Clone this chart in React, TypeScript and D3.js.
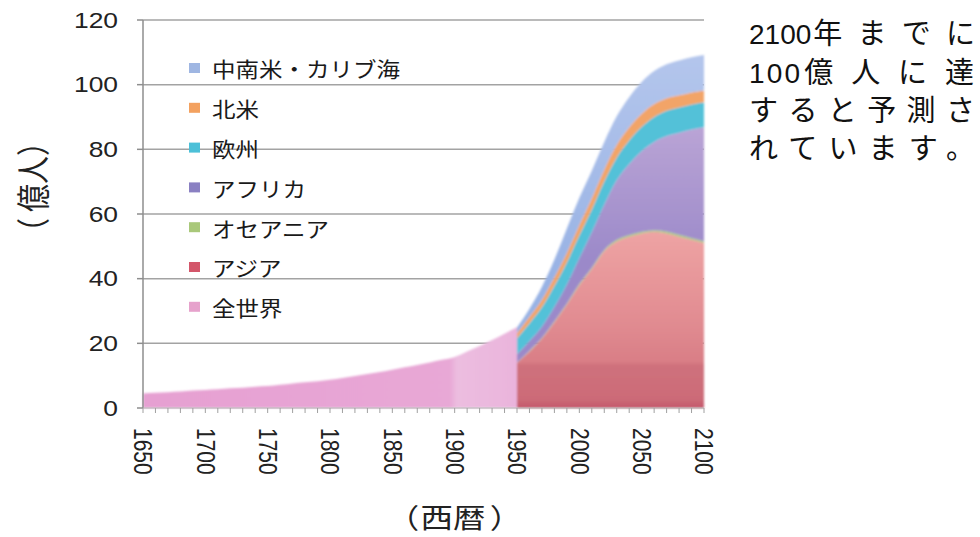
import React from "react";
import * as d3 from "d3";

const worldYears = [1650,1660,1670,1680,1690,1700,1710,1720,1730,1740,1750,1760,1770,1780,1790,1800,1810,1820,1830,1840,1850,1860,1870,1880,1890,1900,1910,1920,1930,1940,1950];
const worldPop = [4.5,4.7,4.9,5.1,5.4,5.6,5.8,6.1,6.3,6.6,6.8,7.2,7.6,8.0,8.3,8.7,9.3,9.9,10.5,11.1,11.8,12.6,13.3,14.1,14.9,15.8,17.5,19.2,21.0,23.0,25.0];

const regionYears = [1950,1960,1970,1980,1990,2000,2010,2020,2030,2040,2050,2060,2070,2080,2090,2100];
const asia = [14,17.5,21.5,26.5,32,38,43,48.5,51.5,53,54,54.5,54,53,52,51];
const oceania = [0.1,0.2,0.2,0.3,0.3,0.4,0.4,0.4,0.5,0.5,0.5,0.5,0.6,0.6,0.6,0.6];
const africa = [2.5,3,3.5,4.5,6,8,11,14,18.5,22,25,27.3,29.5,31.5,33.5,35.2];
const europe = [5,5.5,6,6.5,6.8,7,7,7.2,7,7.3,7.5,7.7,7.8,7.8,7.8,7.8];
const northAmerica = [1.5,2,2.3,2.6,2.9,3.2,3.5,3.7,3.9,4,4,4,3.9,3.8,3.7,3.6];
const latinAmerica = [1.8,2.5,4,5.5,7.5,8.4,8.5,8.5,8.8,9.3,9.8,10.2,10.5,10.8,10.9,11];

const seriesKeys = ["asia","oceania","africa","europe","northAmerica","latinAmerica"];
const seriesValues: Record<string, number[]> = { asia, oceania, africa, europe, northAmerica, latinAmerica };

const legendLabels = ["中南米・カリブ海","北米","欧州","アフリカ","オセアニア","アジア","全世界"];
const legendColors = ["#9fb6e2","#f3a15f","#4cc0d8","#8a80c2","#a9c87a","#d3566a","#e6a2cc"];

const yTicks = [0,20,40,60,80,100,120];
const xLabelYears = [1650,1700,1750,1800,1850,1900,1950,2000,2050,2100];
const xTickYears = d3.range(1650, 2101, 10);

const yTitle = ["（", "億人", "）"];
const xTitle = ["（", "西暦", "）"];
const noteLines = ["2100年までに","100億人に達","すると予測さ","れています。"];

const W = 980, H = 537;
const left = 143, right = 704, top = 20, bottom = 408;
const SX = 1.2;

// layout of the note lines (style only)
const noteBaselines = [44, 83, 121, 159];
const noteDigitSpacing = [0, 2.2, 0, 0];
const noteEnd = [975, 974, 975, 975];

export default function App() {
  const x = d3.scaleLinear().domain([1650, 2100]).range([left, right]);
  const y = d3.scaleLinear().domain([0, 120]).range([bottom, top]);

  const rows = regionYears.map((yr, i) => {
    const r: any = { year: yr };
    seriesKeys.forEach(k => (r[k] = seriesValues[k][i]));
    return r;
  });
  const stacked = d3.stack().keys(seriesKeys)(rows);
  const area = d3.area<any>()
    .x((d: any) => x(d.data.year))
    .y0((d: any) => y(d[0]))
    .y1((d: any) => y(d[1]))
    .curve(d3.curveMonotoneX);
  const worldArea = d3.area<number>()
    .x((_, i) => x(worldYears[i]))
    .y0(y(0))
    .y1(d => y(d))
    .curve(d3.curveMonotoneX);

  const fills: Record<string, string> = {
    asia: "url(#gAsia)",
    oceania: "#a9c87a",
    africa: "url(#gAfrica)",
    europe: "#52c1d8",
    northAmerica: "#f2a468",
    latinAmerica: "url(#gLatam)",
  };

  const tickFont = "'Liberation Sans', Arial, sans-serif";
  const cjkFont = "'Noto Sans CJK JP', 'Noto Sans', sans-serif";
  const digitFontSize = 28;
  const cjkFontSize = 29;

  return (
    <svg width={W} height={H}
      style={{ position: "absolute", left: 0, top: 0, background: "#fff", textSpacingTrim: "space-all" } as any}>
      <defs>
        <linearGradient id="gAsia" gradientUnits="userSpaceOnUse" x1="0" y1={y(55)} x2="0" y2={y(0)}>
          <stop offset="0" stopColor="#eea4a4" />
          <stop offset="0.55" stopColor="#e08a90" />
          <stop offset="0.74" stopColor="#d97e86" />
          <stop offset="0.76" stopColor="#cf717c" />
          <stop offset="0.95" stopColor="#cc6b78" />
          <stop offset="1" stopColor="#c4566a" />
        </linearGradient>
        <linearGradient id="gAfrica" gradientUnits="userSpaceOnUse" x1="0" y1={y(90)} x2="0" y2={y(45)}>
          <stop offset="0" stopColor="#bca6d6" />
          <stop offset="1" stopColor="#9b89c9" />
        </linearGradient>
        <linearGradient id="gLatam" gradientUnits="userSpaceOnUse" x1="0" y1={y(110)} x2="0" y2={y(40)}>
          <stop offset="0" stopColor="#b4c6ec" />
          <stop offset="1" stopColor="#98b2e4" />
        </linearGradient>
        <linearGradient id="gWorld" gradientUnits="userSpaceOnUse" x1={left} y1="0" x2={x(1950)} y2="0">
          <stop offset="0" stopColor="#e6a0d2" />
          <stop offset="0.82" stopColor="#e8a8d6" />
          <stop offset="0.84" stopColor="#ecbde0" />
          <stop offset="1" stopColor="#eab4dc" />
        </linearGradient>
        <filter id="soft" x="-5%" y="-5%" width="110%" height="110%">
          <feGaussianBlur stdDeviation="0.9" />
        </filter>
      </defs>

      {/* gridlines */}
      {yTicks.filter(t => t > 0).map(t => (
        <line key={t} x1={left} x2={right} y1={y(t)} y2={y(t)} stroke="#a3a3a3" strokeWidth={1.5} />
      ))}

      {/* areas */}
      <g filter="url(#soft)">
        <path d={worldArea(worldPop) || ""} fill="url(#gWorld)" />
        {stacked.map(s => (
          <path key={s.key} d={area(s as any) || ""} fill={fills[s.key]} />
        ))}
      </g>

      {/* axes */}
      <line x1={left} x2={left} y1={top} y2={bottom} stroke="#8e8e8e" strokeWidth={1.5} />
      <line x1={left} x2={right} y1={bottom} y2={bottom} stroke="#b0b0b0" strokeWidth={1} />
      {yTicks.map(t => (
        <line key={t} x1={left - 6} x2={left} y1={y(t)} y2={y(t)} stroke="#8e8e8e" strokeWidth={1.5} />
      ))}
      {xTickYears.map(t => (
        <line key={t} x1={x(t)} x2={x(t)} y1={bottom} y2={bottom + 5} stroke="#a0a0a0" strokeWidth={1} />
      ))}

      {/* y tick labels */}
      {yTicks.map(t => (
        <text key={t} transform={`translate(118,${y(t)}) scale(${SX},1)`} textAnchor="end" dominantBaseline="central"
          fontFamily={tickFont} fontSize={22} fill="#222">{t}</text>
      ))}

      {/* x tick labels */}
      {xLabelYears.map(t => (
        <text key={t} transform={`translate(${x(t)},428) scale(${SX},1) rotate(90)`} textAnchor="start" dominantBaseline="central"
          fontFamily={tickFont} fontSize={21} fill="#222">{t}</text>
      ))}

      {/* axis titles */}
      <text transform={`translate(31,184) scale(${SX},1) rotate(-90)`} dominantBaseline="central"
        fontFamily={cjkFont} fontSize={28} fill="#222">
        <tspan x={-62}>{yTitle[0]}</tspan>
        <tspan x={-28}>{yTitle[1]}</tspan>
        <tspan x={28}>{yTitle[2]}</tspan>
      </text>
      <text transform={`translate(453,516) scale(1.25,1.05)`} dominantBaseline="central"
        fontFamily={cjkFont} fontSize={26} fill="#222">
        <tspan x={-53}>{xTitle[0]}</tspan>
        <tspan x={-26}>{xTitle[1]}</tspan>
        <tspan x={29.5}>{xTitle[2]}</tspan>
      </text>

      {/* legend */}
      {legendLabels.map((lab, i) => {
        const cy = 68 + i * 39.8;
        return (
          <g key={lab}>
            <rect x={189} y={cy - 5} width={11} height={10} fill={legendColors[i]} />
            <text transform={`translate(212,${cy}) scale(1.12,1)`} dominantBaseline="central"
              fontFamily={cjkFont} fontSize={21} fill="#1a1a1a">{lab}</text>
          </g>
        );
      })}

      {/* note */}
      {noteLines.map((l, i) => {
        const m = l.match(/^(\d*)(.*)$/) || ["", "", l];
        const digits = m[1];
        const rest = m[2];
        const dw = digits.length * (0.556 * digitFontSize + noteDigitSpacing[i]);
        const restX = 749 + dw + (digits ? 2 : 0);
        return (
          <g key={i} fill="#111">
            {digits && (
              <text x={749} y={noteBaselines[i]} fontFamily={tickFont} fontSize={digitFontSize}
                letterSpacing={noteDigitSpacing[i]}>{digits}</text>
            )}
            <text x={restX} y={noteBaselines[i]} fontFamily={cjkFont} fontSize={cjkFontSize}
              textLength={noteEnd[i] - restX} lengthAdjust="spacing">{rest}</text>
          </g>
        );
      })}
    </svg>
  );
}
